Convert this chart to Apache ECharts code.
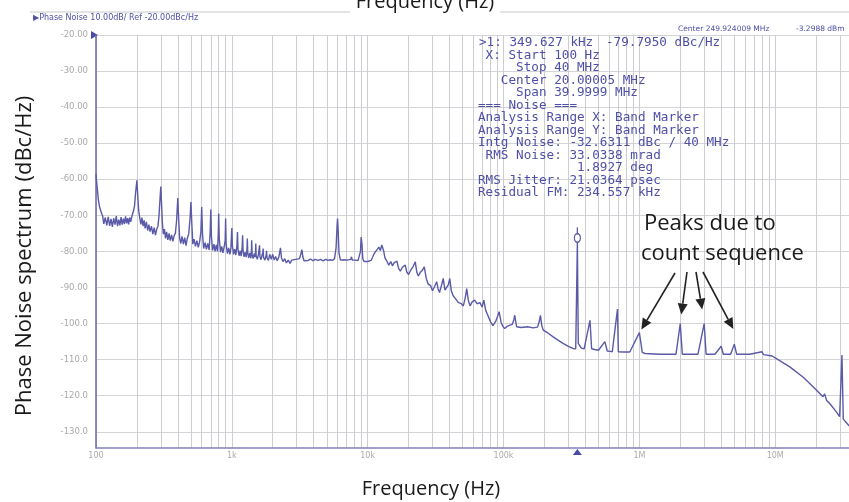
<!DOCTYPE html>
<html><head><meta charset="utf-8">
<script src="https://cdn.jsdelivr.net/npm/echarts@6/dist/echarts.min.js"></script>
<style>html,body{margin:0;padding:0;background:#fff;overflow:hidden;width:849px;height:502px}#c{width:857px;height:502px}</style>
</head><body><div id="c"></div>
<script>
// ---- data (Hz, dBc/Hz) ----
const freqHz = [
 100,101,102.5,104,106,108,110,112,114,117,120,123,126,129,132,135,138,141,144,147,150,153,156,159,162,165,168,171,174,177,180,184,188,192,196,200,203,206,210,214,218,222,226,230,235,240,245,250,256,262,268,274,280,286,291,296,300,304,308,313,319,325,331,338,345,352,360,368,376,384,392,400,406,413,421,430,440,450,460,470,482,492,500,507,516,527,540,553,566,580,592,600,608,620,635,650,665,680,692,700,708,722,738,752,768,784,795,800,808,825,842,860,877,893,900,908,928,948,968,985,995,
 1000,1010,1030,1050,1070,1090,1100,1110,1130,1150,1170,1190,1200,1210,1230,1250,1275,1292,1300,1310,1330,1355,1380,1393,1400,1410,1435,1460,1485,1494,1500,1510,1540,1570,1593,1600,1610,1640,1670,1693,1700,1710,1750,1790,1800,1815,1860,1900,1950,2000,2050,2100,2160,2220,2280,2320,2380,2450,2520,2600,2680,2760,2850,2950,3050,3150,3230,3280,3330,3400,3500,3650,3800,3950,4100,4300,4500,4700,4900,5100,5300,5500,5700,5850,5950,6000,6060,6150,6300,6500,6700,6900,7100,7300,7500,7600,7700,7900,8100,8300,8500,8700,8850,8950,9000,9080,9200,9400,9700,
 10000,10300,10600,10900,11200,11500,11800,12100,12400,12700,12900,13100,13400,13800,14300,14800,15200,15700,16400,16900,17400,18000,18600,18900,19400,20000,20800,21600,22400,23000,23600,24400,25300,26100,27000,27900,29000,30000,31200,32200,33000,33800,35000,36000,37000,38000,39200,40200,41300,42600,44300,46500,48500,50600,52300,53600,55000,56700,58800,61200,63800,67100,69500,71600,74000,76600,80000,83500,87500,90500,92800,96000,99000,
 102000,106000,110500,116000,119000,121000,123000,125000,135000,150000,165000,178000,183000,187000,191000,196000,212000,232000,252000,274000,300000,325000,340000,349627,355000,374000,392000,433000,445000,470000,500000,557000,580000,610000,632000,690000,700000,760000,850000,
 1000000,1050000,1100000,1400000,1860000,2000000,2070000,2700000,3000000,3100000,3600000,4000000,4150000,4700000,5000000,5200000,6500000,8000000,8200000,9500000,
 10200000,12800000,16000000,19000000,22500000,23100000,23900000,25100000,28200000,29800000,30500000,31000000,31700000,34700000,40000000
];
const noiseDb = [
 -58.5,-60.5,-63,-65.5,-67.5,-68.5,-69.5,-70.2,-72.4,-70.6,-72.8,-70.4,-72.9,-71,-73.2,-70.8,-72.6,-70.2,-73,-71.2,-72.8,-70.5,-72.6,-70.9,-72.4,-70.3,-72.2,-70.8,-72.5,-70.6,-71.8,-70.2,-69,-67.5,-63.5,-60.3,-64.5,-68.5,-70.8,-72.5,-70.6,-73,-71.4,-73.6,-71.8,-74.2,-72.6,-74.5,-73,-75.2,-73.4,-75.5,-73.8,-73,-70,-65.5,-62,-67,-72,-75.2,-73.8,-76.4,-74.6,-76.8,-75,-77,-75.4,-77.2,-75.6,-75,-71.5,-65.2,-71,-76.4,-77.8,-75.8,-78,-76.2,-78.4,-76.4,-75,-71,-66.3,-72,-78,-76.6,-78.6,-77,-78.9,-77.2,-74.5,-67.7,-75,-79.2,-77.6,-79.4,-77.8,-79.6,-75,-68.4,-76,-79.7,-78,-80,-78.2,-80,-75,-69.5,-76.5,-80.2,-78.6,-80.4,-78.8,-77,-70.9,-78,-80.6,-79,-80.8,-79,-75,
 -73.5,-78.5,-80.8,-79.4,-81,-78.5,-74.6,-79.5,-81.2,-79.8,-81.3,-79,-75.5,-80,-81.5,-80.2,-81.6,-79.5,-76.4,-80.5,-81.8,-80.4,-81.9,-80,-76.9,-80.8,-82,-80.6,-81.6,-80,-77.8,-81.2,-82.2,-80.8,-80.5,-78.3,-81.5,-82.3,-81,-80.3,-79.2,-81.6,-82.4,-81,-79.8,-81.8,-82.5,-80.8,-82.2,-80.8,-82.4,-81.4,-82.6,-81.5,-79,-81.8,-82.8,-82,-83.2,-82.4,-83.3,-82.4,-82.8,-82.2,-82.7,-82,-80.5,-79.5,-81.5,-82.6,-82.1,-82.5,-82.1,-82.6,-82.2,-82.5,-82.2,-82.6,-82.2,-82.5,-82.3,-82.5,-82,-79,-73,-70.9,-74,-80.5,-82.4,-82.6,-82.3,-82.7,-82.4,-82.6,-82.2,-81.5,-82.4,-82.7,-82.4,-82.7,-82.5,-82.4,-80,-76,-75.5,-78,-82,-82.8,-83,
 -82.8,-83,-82.5,-81.5,-80.5,-79.9,-79.5,-78.8,-79.8,-78.2,-77.8,-79.8,-81.8,-82.6,-83.8,-82.8,-84,-83.1,-82.7,-84.7,-85.5,-84.4,-84,-83.8,-85.7,-86.4,-85.1,-84.2,-82.9,-85.8,-86.8,-85.8,-85.2,-84.3,-87.5,-89.1,-89.4,-90.9,-89.6,-88.4,-90.4,-91.4,-89.3,-87.5,-90.7,-91.2,-89.3,-87.5,-91,-92.3,-93.1,-94.2,-94.4,-95.1,-92.8,-90.3,-93.5,-95.1,-94,-93.5,-94.5,-94.2,-95.4,-93.5,-96.4,-97.7,-99.4,-100.6,-99.4,-98,-96.7,-99.7,-100.8,
 -101.4,-100.8,-100.5,-100.2,-99,-97.7,-99.5,-100.9,-101.1,-100.9,-101.2,-101,-99.5,-97.7,-100.5,-101.8,-102.6,-103.7,-104.6,-105.5,-106.3,-106.9,-107,-77.5,-105.5,-106.8,-107,-99.1,-107,-107.2,-107.4,-105,-107.6,-107.7,-107.8,-96,-107.8,-107.9,-107.9,
 -102.5,-108,-108.3,-108.5,-108.5,-100,-108.5,-108.5,-100,-108.5,-108.5,-106.3,-108.5,-108.5,-105.7,-108.5,-108.5,-107.8,-108.6,-109,
 -109.7,-112,-114.8,-117.5,-120.3,-119.5,-121.3,-122.1,-124.5,-125.8,-126,-108.7,-126.5,-128.2,-130.5
];
const markerFreq = 349627;
const markerDb = -77.5;
const countPeaksHz = [1000000, 2000000, 3000000, 5000000];
const countPeaksDb = [-102.5, -100, -100, -105.7];

const yTickValues = [-20,-30,-40,-50,-60,-70,-80,-90,-100,-110,-120,-130];
const xLabelValues = [100,1e3,1e4,1e5,1e6,1e7];
const xLabelText = ['100','1k','10k','100k','1M','10M'];
const xGridValues = [];
for (let d = 100; d <= 1e7; d *= 10) for (let m = 1; m <= 9; m++) xGridValues.push(d*m);
xGridValues.push(2e7, 3e7, 4e7);

const infoHead = ['>1: 349.627 kHz', '-79.7950 dBc/Hz'];
const infoLines = [
 ' X: Start 100 Hz',
 '     Stop 40 MHz',
 '   Center 20.00005 MHz',
 '     Span 39.9999 MHz',
 '=== Noise ===',
 'Analysis Range X: Band Marker',
 'Analysis Range Y: Band Marker',
 'Intg Noise: -32.6311 dBc / 40 MHz',
 ' RMS Noise: 33.0338 mrad',
 '             1.8927 deg',
 'RMS Jitter: 21.0364 psec',
 'Residual FM: 234.557 kHz'
];

const TRACE = '#5a5aa8';
const BLUE_TXT = '#4f4fa8';
const chart = echarts.init(document.getElementById('c'), null, {renderer: 'canvas'});
const data = freqHz.map((f, i) => [f, noiseDb[i]]);

chart.setOption({
  animation: false,
  backgroundColor: '#fff',
  grid: {left: 96, right: 0, top: 35, bottom: 54, containLabel: false},
  xAxis: {
    type: 'log', logBase: 10, min: 100, max: 4e7,
    axisLine: {show: true, lineStyle: {color: '#8080b8', width: 1.5}},
    axisTick: {show: false, customValues: xGridValues},
    axisLabel: {
      customValues: xLabelValues, margin: 4,
      fontFamily: 'DejaVu Sans', fontSize: 8, color: '#aaa',
      formatter: v => { const i = xLabelValues.findIndex(t => Math.abs(Math.log10(t) - Math.log10(v)) < 1e-6); return i >= 0 ? xLabelText[i] : ''; }
    },
    splitLine: {show: true, lineStyle: {color: '#cdcdd2', width: 1}}
  },
  yAxis: {
    type: 'value', min: -134.5, max: -20,
    axisLine: {show: true, lineStyle: {color: '#6a6ab0', width: 1.5}},
    axisTick: {show: false, customValues: yTickValues},
    axisLabel: {
      customValues: yTickValues, margin: 8,
      fontFamily: 'DejaVu Sans', fontSize: 8.5,
      color: v => v === -20 ? '#666' : '#aaa',
      formatter: v => v > -100 ? v.toFixed(2) : v.toFixed(1)
    },
    splitLine: {show: true, lineStyle: {color: '#d4d4d8', width: 1}}
  },
  series: [{
    type: 'line', data: data, showSymbol: false, silent: true,
    lineStyle: {color: TRACE, width: 1.4}, itemStyle: {color: TRACE}
  }]
});

function arrow(x1, y1, x2, y2) {
  const a = Math.atan2(y2 - y1, x2 - x1), L = 11, W = 5;
  const bx = x2 - L * Math.cos(a), by = y2 - L * Math.sin(a);
  const px = -Math.sin(a) * W, py = Math.cos(a) * W;
  return [
    {type: 'line', silent: true, shape: {x1: x1, y1: y1, x2: bx, y2: by}, style: {stroke: '#222', lineWidth: 1.6}},
    {type: 'polygon', silent: true, shape: {points: [[x2, y2], [bx + px, by + py], [bx - px, by - py]]}, style: {fill: '#222'}}
  ];
}

const TITLE_FONT = {fontFamily: 'Open Sans', fontSize: 22, fill: '#1a1a1a'};
const XTITLE_FONT = {fontFamily: 'Open Sans', fontSize: 20, fill: '#1a1a1a'};
const g = [];
// top frame line and partial top title
g.push({type: 'line', silent: true, shape: {x1: 30, y1: 12, x2: 350, y2: 12}, style: {stroke: '#c8c8c8', lineWidth: 1}});
g.push({type: 'line', silent: true, shape: {x1: 500, y1: 12, x2: 849, y2: 12}, style: {stroke: '#c8c8c8', lineWidth: 1}});
g.push({type: 'text', silent: true, x: 425, y: 2, style: Object.assign({text: 'Frequency (Hz)', align: 'center', verticalAlign: 'middle'}, XTITLE_FONT)});
// axis titles
g.push({type: 'text', silent: true, x: 431, y: 489, style: Object.assign({text: 'Frequency (Hz)', align: 'center', verticalAlign: 'middle'}, XTITLE_FONT)});
g.push({type: 'text', silent: true, x: 25, y: 256, rotation: Math.PI / 2, style: Object.assign({text: 'Phase Noise spectrum (dBc/Hz)', align: 'center', verticalAlign: 'middle'}, TITLE_FONT)});
// header texts
g.push({type: 'text', silent: true, x: 33, y: 18, style: {text: '\u25B6Phase Noise 10.00dB/ Ref -20.00dBc/Hz', fontFamily: 'DejaVu Sans', fontSize: 8, fill: BLUE_TXT, verticalAlign: 'middle'}});
g.push({type: 'text', silent: true, x: 678, y: 29, style: {text: 'Center 249.924009 MHz', fontFamily: 'DejaVu Sans', fontSize: 7.5, fill: BLUE_TXT, verticalAlign: 'middle'}});
g.push({type: 'text', silent: true, x: 796, y: 29, style: {text: '-3.2988 dBm', fontFamily: 'DejaVu Sans', fontSize: 7.5, fill: BLUE_TXT, verticalAlign: 'middle'}});
// info block
const MONO = {fontFamily: 'DejaVu Sans Mono', fontSize: 11.5, fill: BLUE_TXT, verticalAlign: 'middle'};
g.push({type: 'text', silent: true, x: 479, y: 43.5, scaleX: 1.1, style: Object.assign({text: infoHead[0]}, MONO)});
g.push({type: 'text', silent: true, x: 606, y: 43.5, scaleX: 1.1, style: Object.assign({text: infoHead[1]}, MONO)});
g.push({type: 'text', silent: true, x: 478, y: 49.75, scaleX: 1.1, style: Object.assign({text: infoLines.join('\n'), lineHeight: 12.5}, MONO, {verticalAlign: 'top'})});
// reference-level flag at top of y axis
g.push({type: 'polygon', silent: true, shape: {points: [[91, 31], [98, 35], [91, 39]]}, style: {fill: '#4a4aa8'}});
// peaks annotation
g.push({type: 'text', silent: true, x: 644, y: 224, style: Object.assign({text: 'Peaks due to', verticalAlign: 'middle'}, TITLE_FONT)});
g.push({type: 'text', silent: true, x: 641, y: 254, style: Object.assign({text: 'count sequence', verticalAlign: 'middle'}, TITLE_FONT)});

const tails = [[675, 273], [687, 272], [696, 272], [703, 272]];
const offs = [[2, -3], [1, -9], [-2, -14], [-1, -15]];
countPeaksHz.forEach((f, i) => {
  const p = chart.convertToPixel({gridIndex: 0}, [f, countPeaksDb[i]]);
  arrow(tails[i][0], tails[i][1], p[0] + offs[i][0], p[1] + offs[i][1]).forEach(e => g.push(e));
});
// marker pin on the spike and marker triangle under the x axis
const pk = chart.convertToPixel({gridIndex: 0}, [markerFreq, markerDb]);
g.push({type: 'line', silent: true, shape: {x1: pk[0], y1: pk[1] - 9, x2: pk[0], y2: pk[1] - 15}, style: {stroke: TRACE, lineWidth: 1.3}});
g.push({type: 'circle', silent: true, x: pk[0], y: pk[1] - 4.5, scaleY: 1.45, shape: {cx: 0, cy: 0, r: 3}, style: {fill: '#fff', stroke: TRACE, lineWidth: 1.2}});
const mp = chart.convertToPixel({gridIndex: 0}, [markerFreq, -134.5]);
g.push({type: 'polygon', silent: true, shape: {points: [[mp[0], mp[1] + 1], [mp[0] - 4.5, mp[1] + 7], [mp[0] + 4.5, mp[1] + 7]]}, style: {fill: '#4a4aa8'}});

chart.setOption({graphic: g});
</script>
</body></html>
